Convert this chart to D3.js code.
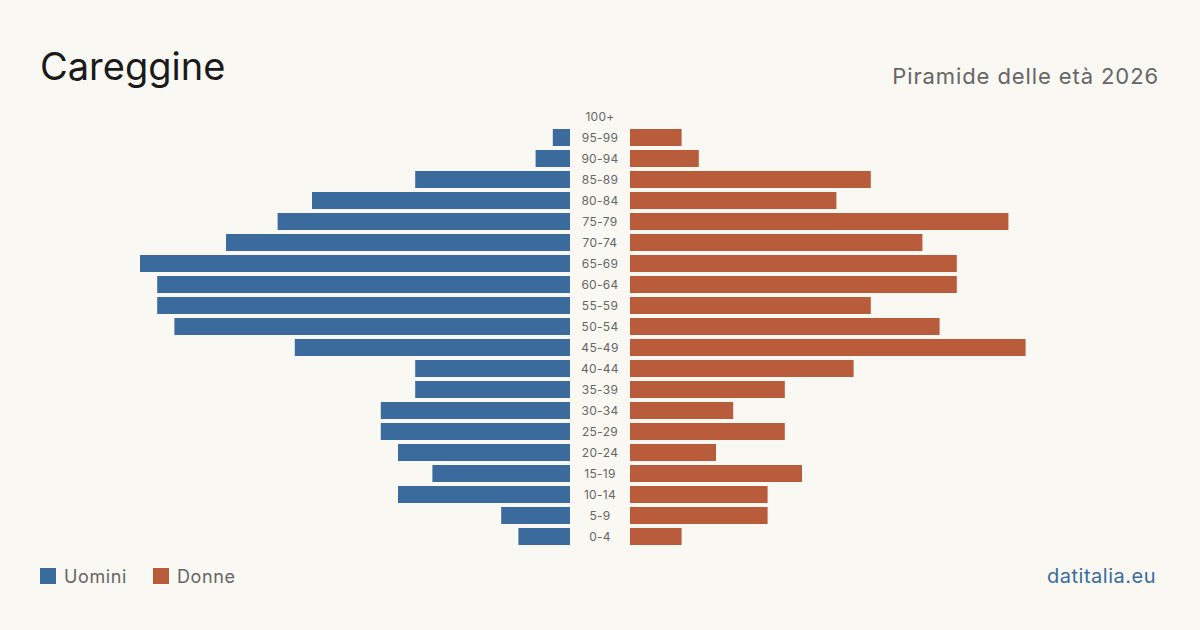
<!DOCTYPE html>
<html><head><meta charset="utf-8">
<script src="https://cdn.jsdelivr.net/npm/d3@7"></script>
<style>html,body{margin:0;padding:0;background:#f9f8f3;}svg{display:block;font-family:Inter,"Noto Sans",sans-serif;}</style>
</head><body>
<svg id="c" width="1200" height="630"></svg>
<script>
const ageGroups = ["100+","95-99","90-94","85-89","80-84","75-79","70-74","65-69","60-64","55-59","50-54","45-49","40-44","35-39","30-34","25-29","20-24","15-19","10-14","5-9","0-4"];
const males   = [0,1,2,9,15,17,20,25,24,24,23,16,9,9,11,11,10,8,10,4,3];
const females = [0,3,4,14,12,22,17,19,19,14,18,23,13,9,6,9,5,10,8,8,3];
const legendLabels = ["Uomini","Donne"];
const colors = {m:"#3a6b9c", f:"#b95c3c"};

const svg = d3.select("#c");
svg.append("rect").attr("width",1200).attr("height",630).attr("fill","#f9f8f3");

const y = d3.scaleBand().domain(ageGroups).range([106,547]).paddingInner(0.19).paddingOuter(0.095);
const xm = d3.scaleLinear().domain([0,25]).range([570,140]);
const xf = d3.scaleLinear().domain([0,25]).range([630,1060]);

svg.append("g").selectAll("rect").data(ageGroups).join("rect")
  .attr("x",(d,i)=>xm(males[i])).attr("width",(d,i)=>xm(0)-xm(males[i]))
  .attr("y",d=>y(d)).attr("height",y.bandwidth()).attr("fill",colors.m);
svg.append("g").selectAll("rect").data(ageGroups).join("rect")
  .attr("x",xf(0)).attr("width",(d,i)=>xf(females[i])-xf(0))
  .attr("y",d=>y(d)).attr("height",y.bandwidth()).attr("fill",colors.f);
svg.append("g").selectAll("text").data(ageGroups).join("text")
  .attr("x",600).attr("y",d=>y(d)+y.bandwidth()/2).attr("dy","0.35em")
  .attr("text-anchor","middle").attr("font-size",12).attr("letter-spacing",0.3).attr("fill","#666").text(d=>d);

svg.append("text").attr("x",40).attr("y",80).attr("font-size",38).attr("fill","#1a1a1a").text("Careggine");
svg.append("text").attr("x",1159).attr("y",84).attr("text-anchor","end").attr("font-size",22).attr("letter-spacing",0.9).attr("fill","#666").text("Piramide delle età 2026");

const lg = svg.append("g");
const lx = [40,153];
legendLabels.forEach((t,i)=>{
  lg.append("rect").attr("x",lx[i]).attr("y",568).attr("width",16).attr("height",16).attr("fill",i?colors.f:colors.m);
  lg.append("text").attr("x",lx[i]+24).attr("y",583).attr("font-size",18).attr("letter-spacing",0.6).attr("fill","#666").text(t);
});
svg.append("text").attr("x",1156).attr("y",583).attr("text-anchor","end").attr("font-size",20).attr("letter-spacing",0.5).attr("fill",colors.m).text("datitalia.eu");
</script>
</body></html>
